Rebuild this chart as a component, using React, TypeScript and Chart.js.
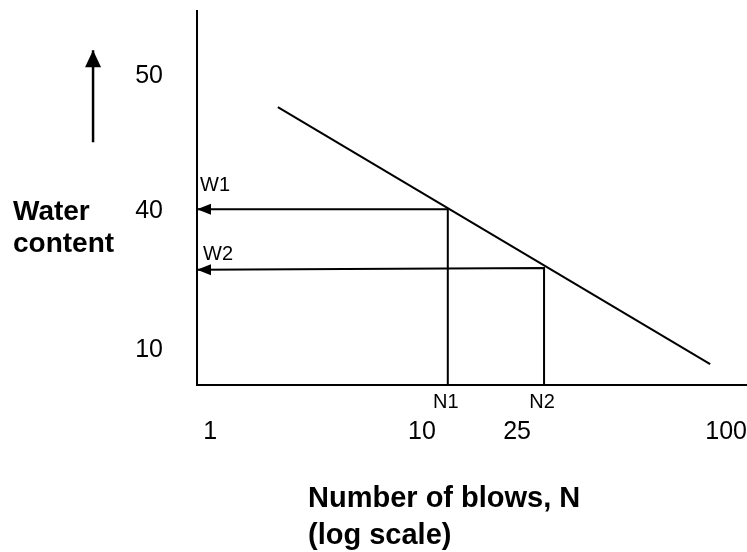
import { useEffect, useRef } from "react";
import { Chart, registerables } from "chart.js";

Chart.register(...registerables);

// Schematic diagram: both axes run 0..100 along their drawn length.
const xTickValues = [2.4, 40.9, 58.2, 96.2];
const xTickLabels = ["1", "10", "25", "100"];
const yTickValues = [9.4, 46.4, 82.6];
const yTickLabels = ["10", "40", "50"];

// flow line (water content vs. log N)
const flowLineX = [14.7, 93.3];
const flowLineY = [74.3, 5.6];

// N1 / N2 positions and the water contents W1 / W2
const nValues = [45.6, 63.1];
const wValues = [47.0, 31.3];
const wAxisValues = [47.0, 30.8];
const nLabels = ["N1", "N2"];
const wLabels = ["W1", "W2"];

// "increasing water content" arrow beside the y axis
const trendArrowX = [-18.9, -18.9];
const trendArrowY = [64.9, 89.5];

const yTitleLines = ["Water", "content"];
const xTitleLines = ["Number of blows, N", "(log scale)"];

const FONT = "'Liberation Sans', Arial, Helvetica, sans-serif";

const arrowPlugin = {
  id: "arrowHeads",
  afterDatasetsDraw(chart: any) {
    const ctx = chart.ctx;
    chart.data.datasets.forEach((ds: any, i: number) => {
      if (!ds.arrowHead) return;
      const pts = chart.getDatasetMeta(i).data;
      const n = pts.length;
      if (n < 2) return;
      const p1 = pts[n - 2];
      const p2 = pts[n - 1];
      const a = Math.atan2(p2.y - p1.y, p2.x - p1.x);
      const L = ds.arrowHead.length;
      const W = ds.arrowHead.half;
      const bx = p2.x - L * Math.cos(a);
      const by = p2.y - L * Math.sin(a);
      ctx.save();
      ctx.fillStyle = "#000";
      ctx.beginPath();
      ctx.moveTo(p2.x, p2.y);
      ctx.lineTo(bx - W * Math.sin(a), by + W * Math.cos(a));
      ctx.lineTo(bx + W * Math.sin(a), by - W * Math.cos(a));
      ctx.closePath();
      ctx.fill();
      ctx.restore();
    });
  },
};

const textPlugin = {
  id: "schematicTexts",
  afterDraw(chart: any) {
    const ctx = chart.ctx;
    const xs = chart.scales.x;
    const ys = chart.scales.y;
    const area = chart.chartArea;
    ctx.save();
    ctx.fillStyle = "#000";
    ctx.textBaseline = "alphabetic";

    // W1 / W2 labels
    ctx.font = `20px ${FONT}`;
    ctx.textAlign = "left";
    const wOffsets = [-18, -10];
    const wShift = [3, 6];
    wLabels.forEach((t, i) => {
      ctx.fillText(t, xs.getPixelForValue(0) + wShift[i], ys.getPixelForValue(wAxisValues[i]) + wOffsets[i]);
    });
    // N1 / N2 labels
    ctx.textAlign = "center";
    nLabels.forEach((t, i) => {
      ctx.fillText(t, xs.getPixelForValue(nValues[i]) - 2, ys.getPixelForValue(0) + 23);
    });

    // y title
    ctx.font = `bold 28px ${FONT}`;
    ctx.textAlign = "left";
    ctx.fillText(yTitleLines[0], area.left - 184, 220);
    ctx.fillText(yTitleLines[1], area.left - 184, 252);

    // x title
    ctx.font = `bold 29px ${FONT}`;
    ctx.fillText(xTitleLines[0], 308, 507);
    ctx.fillText(xTitleLines[1], 308, 544);
    ctx.restore();
  },
};

export default function App() {
  const ref = useRef<HTMLCanvasElement | null>(null);

  useEffect(() => {
    document.body.style.margin = "0";
    if (!ref.current) return;
    const lineStyle = {
      showLine: true,
      borderColor: "#000",
      backgroundColor: "#000",
      borderWidth: 2,
      pointRadius: 0,
      pointHoverRadius: 0,
      fill: false,
    };
    const chart = new Chart(ref.current, {
      type: "scatter",
      data: {
        datasets: [
          {
            ...lineStyle,
            label: "flow line",
            data: flowLineX.map((x, i) => ({ x, y: flowLineY[i] })),
          },
          ...nValues.map((n, i) => ({
            ...lineStyle,
            label: wLabels[i],
            data: [
              { x: n, y: 0 },
              { x: n, y: wValues[i] },
              { x: 0, y: wAxisValues[i] },
            ],
            arrowHead: { length: 14, half: 5.5 },
          })),
          {
            ...lineStyle,
            label: "trend",
            clip: false,
            borderWidth: 2.5,
            data: trendArrowX.map((x, i) => ({ x, y: trendArrowY[i] })),
            arrowHead: { length: 17, half: 8 },
          },
        ] as any,
      },
      options: {
        responsive: false,
        animation: false,
        events: [],
        devicePixelRatio: 1,
        layout: { padding: { top: 11, left: 0, right: 0, bottom: 0 } },
        plugins: {
          legend: { display: false },
          tooltip: { enabled: false },
          title: { display: false },
        },
        scales: {
          x: {
            type: "linear",
            min: 0,
            max: 100,
            grid: { display: false, drawTicks: false },
            border: { display: true, color: "#000", width: 2 },
            afterBuildTicks: (s: any) => {
              s.ticks = xTickValues.map((v) => ({ value: v }));
            },
            afterFit: (s: any) => {
              s.height = 167;
              s.paddingLeft = 0;
              s.paddingRight = 0;
            },
            ticks: {
              autoSkip: false,
              maxRotation: 0,
              minRotation: 0,
              padding: 32,
              color: "#000",
              font: { family: FONT, size: 25 },
              callback: (_v: any, i: number) => xTickLabels[i],
            },
          },
          y: {
            type: "linear",
            min: 0,
            max: 100,
            grid: { display: false, drawTicks: false },
            border: { display: true, color: "#000", width: 2 },
            afterBuildTicks: (s: any) => {
              s.ticks = yTickValues.map((v) => ({ value: v }));
            },
            afterFit: (s: any) => {
              s.width = 197;
              s.paddingTop = 0;
              s.paddingBottom = 0;
            },
            ticks: {
              autoSkip: false,
              padding: 34,
              color: "#000",
              font: { family: FONT, size: 25 },
              callback: (_v: any, i: number) => yTickLabels[i],
            },
          },
        },
      },
      plugins: [arrowPlugin, textPlugin],
    } as any);
    return () => chart.destroy();
  }, []);

  return <canvas ref={ref} width={747} height={552} style={{ display: "block" }} />;
}
